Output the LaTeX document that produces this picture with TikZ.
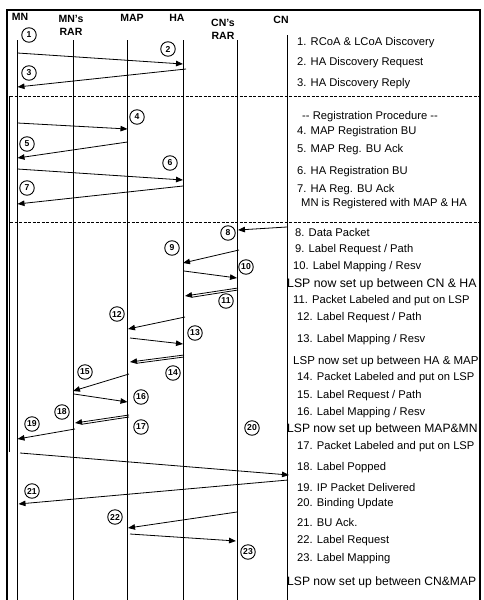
\documentclass[tikz,border=0pt]{standalone}
\usepackage{fontspec}
\setmainfont{Liberation Sans}
\usetikzlibrary{arrows.meta,calc}
\begin{document}
\begin{tikzpicture}[x=1pt,y=-1pt,
 life/.style={line width=0.9pt},
 frameline/.style={line width=1.3pt},
 msg/.style={line width=0.8pt,-{Triangle[length=7pt,width=5.5pt]}},
 plainmsg/.style={line width=0.8pt},
 sepline/.style={line width=0.7pt,dash pattern=on 3pt off 1.5pt},
 num/.style={circle,draw,line width=0.9pt,minimum size=14.5pt,inner sep=0pt,font=\fontsize{8.6}{9}\selectfont\bfseries},
 hdr/.style={font=\fontsize{10.5}{13}\selectfont\bfseries,inner sep=0pt,align=center},
 txt/.style={anchor=west,inner sep=0pt,font=\fontsize{11.2}{12}\selectfont},
 lsp/.style={anchor=west,inner sep=0pt}]

\useasboundingbox (0,0) rectangle (483,600);

% frame
\coordinate (fTL) at (7,10);
\coordinate (fTR) at (480,10);
\coordinate (fBL) at (7,600);
\coordinate (fBR) at (480,600);
\draw[frameline] (fBL) -- (fTL) -- (fTR) -- (fBR);
\coordinate (fIL1) at (9.8,96);
\coordinate (fIL2) at (9.8,452);
\draw[line width=0.7pt] (fIL1) -- (fIL2);

% headers
\node[hdr] (hMN) at (20,17) {MN};
\node[hdr] (hMNR) at (71,25) {MN's\\RAR};
\node[hdr] (hMAP) at (132,18) {MAP};
\node[hdr] (hHA) at (177,18) {HA};
\node[hdr] (hCNR) at (223,29) {CN's\\RAR};
\node[hdr] (hCN) at (281,20) {CN};

% lifelines
\coordinate (lMNt) at (17.5,40);  \coordinate (lMNb) at (17.5,600);
\coordinate (lMRt) at (73,40);    \coordinate (lMRb) at (73,600);
\coordinate (lMAt) at (127.5,40); \coordinate (lMAb) at (127.5,600);
\coordinate (lHAt) at (183,40);   \coordinate (lHAb) at (183,600);
\coordinate (lCRt) at (237,40);   \coordinate (lCRb) at (237,600);
\coordinate (lCNt) at (287,35);   \coordinate (lCNb) at (287,600);
\foreach \a/\b in {lMNt/lMNb,lMRt/lMRb,lMAt/lMAb,lHAt/lHAb,lCRt/lCRb,lCNt/lCNb}
  \draw[life] (\a) -- (\b);

% separators
\coordinate (s1a) at (10,96);  \coordinate (s1b) at (480,96);
\coordinate (s2a) at (10,222); \coordinate (s2b) at (480,222);
\draw[sepline] (s1a) -- (s1b);
\draw[sepline] (s2a) -- (s2b);

% messages
\coordinate (m2a) at (17.5,53);  \coordinate (m2b) at (183,64);
\coordinate (m3a) at (186,69);   \coordinate (m3b) at (17.5,87);
\coordinate (m4a) at (17.5,123); \coordinate (m4b) at (127.5,129);
\coordinate (m5a) at (127.5,142);\coordinate (m5b) at (17.5,158);
\coordinate (m6a) at (17.5,169); \coordinate (m6b) at (183,180);
\coordinate (m7a) at (183,186);  \coordinate (m7b) at (17.5,204);
\coordinate (m8a) at (287,227);  \coordinate (m8b) at (238,230);
\coordinate (m9a) at (239,250);  \coordinate (m9b) at (183,263);
\coordinate (m10a) at (184,271); \coordinate (m10b) at (237,278);
\coordinate (m11a) at (238,288); \coordinate (m11b) at (185,296);
\coordinate (m12a) at (185,317); \coordinate (m12b) at (128,329);
\coordinate (m13a) at (130,338); \coordinate (m13b) at (183,344);
\coordinate (m14a) at (184,355); \coordinate (m14b) at (130,362);
\coordinate (m15a) at (129,374); \coordinate (m15b) at (73,391);
\coordinate (m16a) at (74,394);  \coordinate (m16b) at (127.5,402);
\coordinate (m17a) at (129,415); \coordinate (m17b) at (75,423);
\coordinate (m19a) at (75,429);  \coordinate (m19b) at (17.5,439);
\coordinate (m20a) at (20,453);  \coordinate (m20b) at (289,475);
\coordinate (m21a) at (288,480); \coordinate (m21b) at (18.5,504);
\coordinate (m22a) at (237,512); \coordinate (m22b) at (128,528);
\coordinate (m23a) at (130,534); \coordinate (m23b) at (236,541);

\foreach \a/\b in {m2a/m2b,m3a/m3b,m4a/m4b,m5a/m5b,m6a/m6b,m7a/m7b,m8a/m8b,
  m9a/m9b,m10a/m10b,m11a/m11b,m12a/m12b,m13a/m13b,m14a/m14b,m15a/m15b,
  m16a/m16b,m17a/m17b,m19a/m19b,m20a/m20b,m21a/m21b,m22a/m22b,m23a/m23b}
  \draw[msg] (\a) -- (\b);

% second strokes of the double (labelled packet) arrows
\draw[plainmsg] ($(m11a)+(0,2)$) -- ($(m11b)+(7,1.2)$);
\draw[plainmsg] ($(m14a)+(0,2)$) -- ($(m14b)+(7,1.2)$);
\draw[plainmsg] ($(m17a)+(0,2)$) -- ($(m17b)+(7,1.2)$);

% step numbers
\node[num] (n1) at (29,35) {1};
\node[num] (n2) at (168,49) {2};
\node[num] (n3) at (29,73) {3};
\node[num] (n4) at (137,117) {4};
\node[num] (n5) at (27,144) {5};
\node[num] (n6) at (170,163) {6};
\node[num] (n7) at (27,188) {7};
\node[num] (n8) at (228,233) {8};
\node[num] (n9) at (172,248) {9};
\node[num] (n10) at (246,267) {10};
\node[num] (n11) at (226,301) {11};
\node[num] (n12) at (117,314) {12};
\node[num] (n13) at (195,333) {13};
\node[num] (n14) at (173,373) {14};
\node[num] (n15) at (85,372) {15};
\node[num] (n16) at (141,397) {16};
\node[num] (n17) at (141,427) {17};
\node[num] (n18) at (62,412) {18};
\node[num] (n19) at (32,424) {19};
\node[num] (n20) at (252,428) {20};
\node[num] (n21) at (32,491) {21};
\node[num] (n22) at (115,517) {22};
\node[num] (n23) at (248,552) {23};

% description column
\node[txt] (t1) at (297,43) {1. RCoA \& LCoA Discovery};
\node[txt] (t2) at (297,63) {2. HA Discovery Request};
\node[txt] (t3) at (297,84) {3. HA Discovery Reply};
\node[txt] (tr) at (302,117) {-{}- Registration Procedure -{}-};
\node[txt] (t4) at (297,132) {4. MAP Registration BU};
\node[txt] (t5) at (297,150) {5. MAP Reg. BU Ack};
\node[txt] (t6) at (297,172) {6. HA Registration BU};
\node[txt] (t7) at (297,190) {7. HA Reg. BU Ack};
\node[txt] (tm) at (301,204) {MN is Registered with MAP \& HA};
\node[txt] (t8) at (295,232) {8. Data Packet};
\node[txt] (t9) at (295,250) {9. Label Request / Path};
\node[txt] (t10) at (293,267) {10. Label Mapping / Resv};
\node[lsp,font=\fontsize{12.3}{13}\selectfont] (l1) at (287,284) {LSP now set up between CN \& HA};
\node[txt] (t11) at (293,301) {11. Packet Labeled and put on LSP};
\node[txt] (t12) at (297,318) {12. Label Request / Path};
\node[txt] (t13) at (297,340) {13. Label Mapping / Resv};
\node[lsp,font=\fontsize{11.5}{13}\selectfont] (l2) at (293,362) {LSP now set up between HA \& MAP};
\node[txt] (t14) at (297,378) {14. Packet Labeled and put on LSP};
\node[txt] (t15) at (297,396) {15. Label Request / Path};
\node[txt] (t16) at (297,413) {16. Label Mapping / Resv};
\node[lsp,font=\fontsize{12.1}{13}\selectfont] (l3) at (287,429) {LSP now set up between MAP\&MN};
\node[txt] (t17) at (297,447) {17. Packet Labeled and put on LSP};
\node[txt] (t18) at (297,468) {18. Label Popped};
\node[txt] (t19) at (297,487) {19. IP Packet Delivered};
\node[txt] (t20) at (297,504) {20. Binding Update};
\node[txt] (t21) at (297,522) {21. BU Ack.};
\node[txt] (t22) at (297,541) {22. Label Request};
\node[txt] (t23) at (297,559) {23. Label Mapping};
\node[lsp,font=\fontsize{12.1}{13}\selectfont] (l4) at (287,582) {LSP now set up between CN\&MAP};
\end{tikzpicture}
\end{document}
